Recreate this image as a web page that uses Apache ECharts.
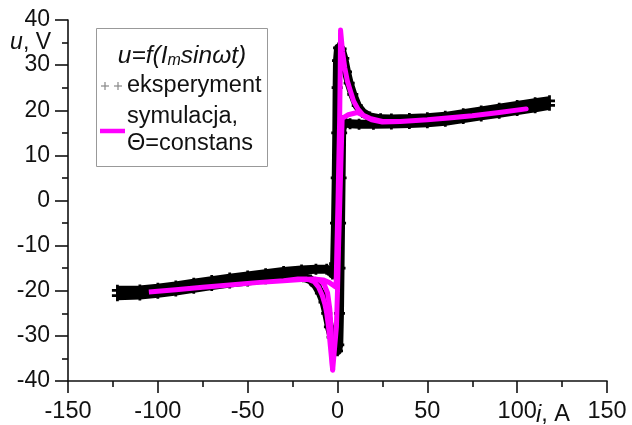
<!DOCTYPE html>
<html>
<head>
<meta charset="utf-8">
<script src="https://cdn.jsdelivr.net/npm/echarts@6/dist/echarts.min.js"></script>
<style>
  html, body { margin: 0; padding: 0; background: #fff; }
  #chart { width: 632px; height: 425px; }
</style>
</head>
<body>
<div id="chart"></div>
<script>
// Measured voltage u [V] against current i [A]: branch with i falling (from +max to -max)
const expFall = [
  [118, 21.1], [110, 20.55], [100, 19.95], [90, 19.35], [80, 18.75], [70, 18.15], [60, 17.55],
  [50, 17.25], [40, 17.05], [30, 16.95], [20, 16.9], [12, 16.9], [7, 17.0], [4.5, 17.2], [3, 17.6],
  [2.3, 15], [2.0, 5], [1.7, -5], [1.4, -15], [1.1, -25], [0.7, -32], [0, -33.3],
  [-1.5, -32.3], [-3, -30.3], [-4.5, -28], [-6, -25], [-7.5, -22.5], [-9.5, -20.5],
  [-12, -18.8], [-15, -17.6], [-19, -16.9], [-24, -16.6], [-30, -16.85], [-40, -17.35],
  [-50, -17.85], [-60, -18.3], [-70, -18.85], [-80, -19.45], [-90, -20.05], [-100, -20.55],
  [-110, -20.95], [-122.5, -21.1]
];
// Measured branch with i rising (from -max to +max)
const expRise = [
  [-122.5, -19.9], [-110, -19.85], [-100, -19.45], [-90, -18.95], [-80, -18.35], [-70, -17.75],
  [-60, -17.2], [-50, -16.75], [-40, -16.25], [-30, -15.75], [-20, -15.4], [-12, -15.25],
  [-6, -15.25], [-3.5, -15.5], [-2.8, -16.3], [-1.6, -14], [-1.1, -5], [-0.7, 5], [-0.4, 15],
  [-0.2, 25], [0, 31], [0.6, 33.8], [2, 33.6], [3.5, 31.5], [5, 28.5], [6.5, 26], [8.5, 23.5],
  [11, 21], [14, 19.5], [18, 18.5], [24, 18.1], [30, 18.05], [40, 18.15], [50, 18.35], [60, 18.65],
  [70, 19.25], [80, 19.85], [90, 20.45], [100, 21.05], [110, 21.65], [118, 22.1]
];
// Simulated loop (constant temperature)
const simLoop = [
  [-105, -20.3], [-90, -19.8], [-75, -19.2], [-60, -18.7], [-45, -18.2], [-30, -17.8],
  [-20, -17.5], [-13, -17.4], [-8, -17.6], [-4.5, -18.2], [-2, -18.9], [-0.8, -19.2],
  [-0.3, -10], [0.3, 0], [0.8, 10], [1.2, 18], [1.5, 28], [1.7, 37.8],
  [2.8, 33], [4, 29.5], [5.5, 26.5], [7, 24.5], [9, 22], [11.5, 20.2], [14.5, 18.8],
  [19, 17.9], [25, 17.4], [35, 17.5], [50, 17.9], [62, 18.3], [75, 18.8], [90, 19.5], [105, 20.3],
  [90, 19.5], [75, 18.8], [50, 17.9], [35, 17.5], [25, 17.5], [18, 18.2], [11, 19.5], [6, 19.0],
  [2.6, 18.2], [2.0, 10], [1.3, 0], [0.6, -10], [0, -20], [-0.6, -28], [-2.7, -37.6],
  [-3.8, -33], [-5, -28], [-6, -25], [-7, -23], [-8.5, -21], [-10.5, -19.2], [-13, -18],
  [-17, -17.4], [-22, -17.4], [-30, -17.8], [-45, -18.2], [-60, -18.7], [-75, -19.2],
  [-90, -19.8], [-105, -20.3]
];
// Second simulated return from the negative peak
const simInner = [
  [-2.7, -37.6], [-3.2, -33], [-3.6, -28], [-4.3, -24], [-5.5, -20.5], [-7.5, -18.5],
  [-10, -17.7], [-13, -17.4]
];

const FONT = 'Liberation Sans, Arial, sans-serif';
const PLUS = 'path://M3,0h2v3h3v2h-3v3h-2v-3h-3v-2h3z';
const INK = '#111';

const chart = echarts.init(document.getElementById('chart'), null, { renderer: 'canvas' });

function expSeries(name, data) {
  return {
    name: name, type: 'line', data: data,
    symbol: PLUS, symbolSize: 11, showSymbol: true,
    itemStyle: { color: '#000' },
    lineStyle: { color: '#000', width: 9, join: 'round' },
    silent: true, z: 2
  };
}
function simSeries(name, data) {
  return {
    name: name, type: 'line', data: data, symbol: 'none',
    lineStyle: { color: '#ff00ff', width: 5, join: 'round', cap: 'butt' },
    silent: true, z: 3
  };
}
function plusIcon(cx, cy) {
  return [
    { type: 'line', z: 11, shape: { x1: cx - 4, y1: cy, x2: cx + 4, y2: cy }, style: { stroke: '#888', lineWidth: 1.2 } },
    { type: 'line', z: 11, shape: { x1: cx, y1: cy - 4, x2: cx, y2: cy + 4 }, style: { stroke: '#888', lineWidth: 1.2 } }
  ];
}

chart.setOption({
  animation: false,
  backgroundColor: '#fff',
  grid: { left: 68, right: 25, top: 20, bottom: 44 },
  xAxis: {
    type: 'value', min: -150, max: 150, interval: 50,
    axisLine: { onZero: false, lineStyle: { color: INK, width: 1.6 } },
    axisTick: { inside: false, length: 12, lineStyle: { color: INK, width: 1.6 } },
    minorTick: { show: true, splitNumber: 2, length: 6, lineStyle: { color: INK, width: 1.6 } },
    splitLine: { show: false },
    axisLabel: { margin: 19, fontFamily: FONT, fontSize: 23.5, color: INK }
  },
  yAxis: {
    type: 'value', min: -40, max: 40, interval: 10,
    axisLine: { show: true, onZero: false, lineStyle: { color: INK, width: 1.6 } },
    axisTick: { show: true, inside: false, length: 13, lineStyle: { color: INK, width: 1.6 } },
    minorTick: { show: true, splitNumber: 2, length: 6, lineStyle: { color: INK, width: 1.6 } },
    splitLine: { show: false },
    axisLabel: { margin: 18, fontFamily: FONT, fontSize: 23, color: INK }
  },
  series: [
    expSeries('eksperyment', expFall),
    expSeries('eksperyment', expRise),
    simSeries('symulacja', simLoop),
    simSeries('symulacja', simInner)
  ],
  graphic: [
    // axis names
    {
      type: 'text', x: 51, y: 43, z: 10,
      style: {
        text: '{i|u}, V', align: 'right', verticalAlign: 'middle',
        fontFamily: FONT, fontSize: 23, fill: INK,
        rich: { i: { fontStyle: 'italic', fontFamily: FONT, fontSize: 23, fill: INK } }
      }
    },
    {
      type: 'text', x: 536, y: 415, z: 10,
      style: {
        text: '{i|i}, A', align: 'left', verticalAlign: 'middle',
        fontFamily: FONT, fontSize: 23.5, fill: INK,
        rich: { i: { fontStyle: 'italic', fontFamily: FONT, fontSize: 23.5, fill: INK } }
      }
    },
    // legend box
    {
      type: 'rect', shape: { x: 96.5, y: 28.5, width: 171, height: 138 }, z: 10,
      style: { fill: '#fff', stroke: '#999', lineWidth: 1 }
    },
    {
      type: 'text', z: 11, x: 182, y: 56,
      style: {
        text: '{a|u=f(I}{s|m}{a|sinωt)}', align: 'center', verticalAlign: 'middle',
        fontFamily: FONT, fontSize: 24.5, fill: INK,
        rich: {
          a: { fontStyle: 'italic', fontFamily: FONT, fontSize: 24.5, fill: INK },
          s: { fontStyle: 'italic', fontFamily: FONT, fontSize: 16, fill: INK, verticalAlign: 'bottom', padding: [8, 0, 0, 0] }
        }
      }
    }
  ]
    .concat(plusIcon(105, 86))
    .concat(plusIcon(118, 86))
    .concat([
      {
        type: 'text', z: 11, x: 127, y: 86,
        style: { text: 'eksperyment', verticalAlign: 'middle', fontFamily: FONT, fontSize: 23.5, fill: INK }
      },
      {
        type: 'line', z: 11, shape: { x1: 100, y1: 131, x2: 125, y2: 131 },
        style: { stroke: '#ff00ff', lineWidth: 4.5 }
      },
      {
        type: 'text', z: 11, x: 127, y: 130,
        style: {
          text: 'symulacja,\nΘ=constans', verticalAlign: 'middle', lineHeight: 27,
          fontFamily: FONT, fontSize: 23.5, fill: INK
        }
      }
    ])
});
</script>
</body>
</html>
